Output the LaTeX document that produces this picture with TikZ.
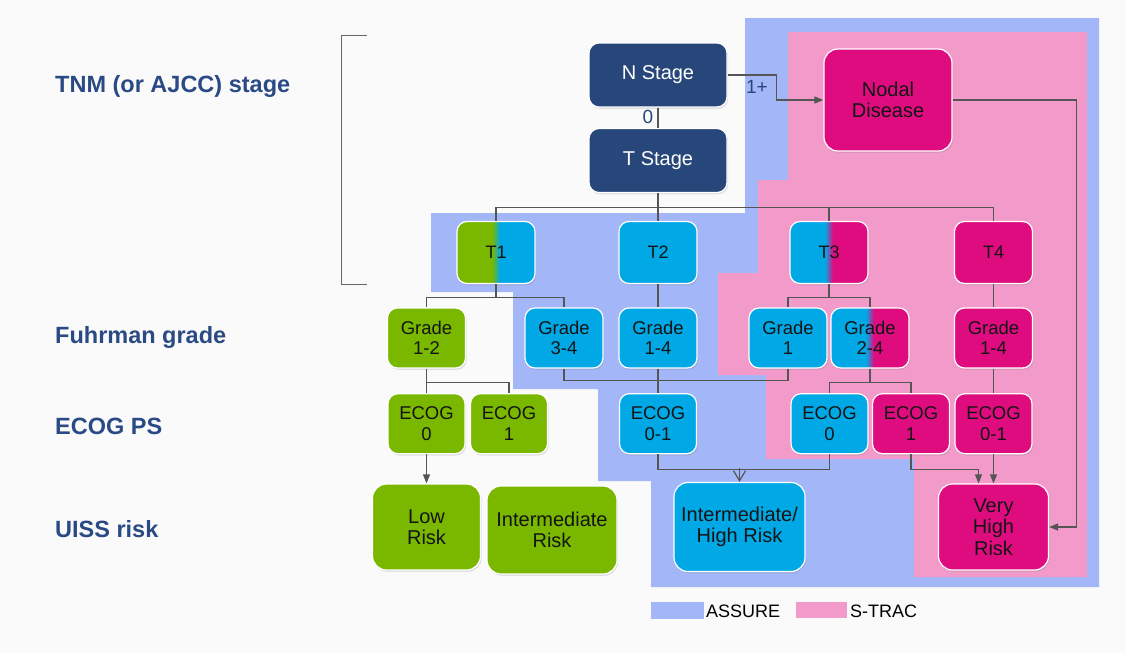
\documentclass[tikz,border=0pt]{standalone}
\usepackage{fontspec}
\setmainfont{Liberation Sans}
\usetikzlibrary{arrows.meta,shadows}
\definecolor{bgc}{HTML}{FAFAFA}
\definecolor{navy}{HTML}{27467A}
\definecolor{labc}{HTML}{2A4A85}
\definecolor{assure}{HTML}{A2B6F8}
\definecolor{strac}{HTML}{F29BCA}
\definecolor{cgreen}{HTML}{7AB800}
\definecolor{ccyan}{HTML}{00A9E6}
\definecolor{cmag}{HTML}{DF0C80}
\definecolor{lineg}{HTML}{555555}
\pgfdeclarehorizontalshading{gc}{100bp}{color(0bp)=(cgreen); color(47.5bp)=(cgreen); color(52.5bp)=(ccyan); color(100bp)=(ccyan)}
\pgfdeclarehorizontalshading{cm}{100bp}{color(0bp)=(ccyan); color(47.5bp)=(ccyan); color(52.5bp)=(cmag); color(100bp)=(cmag)}
\begin{document}
\begin{tikzpicture}[x=1pt,y=-1pt,
  box/.style={rounded corners=10pt, draw=white, line width=1.2pt, align=center, inner sep=0pt, text=black!92,
    drop shadow={shadow xshift=1.2pt, shadow yshift=-1.8pt, opacity=0.22}},
  stagebox/.style={box, fill=navy, text=white, minimum width=138pt, minimum height=64pt, font=\fontsize{20}{22}\selectfont},
  tbox/.style={box, minimum width=78pt, minimum height=62pt, font=\fontsize{18}{20}\selectfont},
  gbox/.style={box, minimum width=78pt, minimum height=60pt, font=\fontsize{18.5}{20.5}\selectfont},
  rbox/.style={box, rounded corners=14pt, font=\fontsize{20}{21.5}\selectfont},
  ln/.style={draw=lineg, line width=1.2pt},
  arr/.style={ln, -{Triangle[length=9pt,width=7pt]}},
  openarr/.style={ln, -{Straight Barb[length=10pt,width=12pt]}},
  lab/.style={anchor=base west, inner sep=0pt, text=labc, font=\bfseries\fontsize{23.5}{26}\selectfont},
  elab/.style={text=navy, font=\fontsize{19}{21}\selectfont},
  leg/.style={anchor=west, inner sep=1pt, text=black, font=\fontsize{18}{20}\selectfont}
]
\fill[bgc] (0,0) rectangle (1126,653);
\useasboundingbox (0,0) rectangle (1126,653);

% study regions
\fill[assure] (745,18) -- (1099,18) -- (1099,587) -- (651,587) -- (651,481) -- (598,481) -- (598,389) -- (513,389) -- (513,292) -- (431,292) -- (431,213) -- (745,213) -- cycle;
\fill[strac] (788,32) -- (1087,32) -- (1087,577) -- (914,577) -- (914,459) -- (766,459) -- (766,375) -- (718,375) -- (718,273) -- (758,273) -- (758,180) -- (788,180) -- cycle;

% left labels
\node[lab] (l1) at (55,92.5) {TNM (or AJCC) stage};
\node[lab] (l2) at (55,343) {Fuhrman grade};
\node[lab] (l3) at (55,434) {ECOG PS};
\node[lab] (l4) at (55,537) {UISS risk};
\draw[draw=black!60, line width=1pt] (367,35) -- (341,35) -- (341,284) -- (367,284);

% stage nodes
\node[stagebox] (nst) at (658,75) {N Stage};
\node[stagebox] (tst) at (658,160.5) {T Stage};
\node[rbox, fill=cmag, minimum width=128pt, minimum height=102pt] (nod) at (888,100) {Nodal\\Disease};

% T row
\node[tbox, shade, shading=gc] (t1) at (496,252.5) {T1};
\node[tbox, fill=ccyan] (t2) at (658,252.5) {T2};
\node[tbox, shade, shading=cm] (t3) at (829,252.5) {T3};
\node[tbox, fill=cmag] (t4) at (993.5,252.5) {T4};

% grade row
\node[gbox, fill=cgreen] (g12) at (426.5,338) {Grade\\1-2};
\node[gbox, fill=ccyan] (g34) at (564,338) {Grade\\3-4};
\node[gbox, fill=ccyan] (g14a) at (658,338) {Grade\\1-4};
\node[gbox, fill=ccyan] (g1) at (788,338) {Grade\\1};
\node[gbox, shade, shading=cm] (g24) at (870,338) {Grade\\2-4};
\node[gbox, fill=cmag] (g14b) at (993.5,338) {Grade\\1-4};

% ECOG row
\node[gbox, minimum width=77pt, fill=cgreen] (e0g) at (426.5,423.7) {ECOG\\0};
\node[gbox, minimum width=77pt, fill=cgreen] (e1g) at (509,423.7) {ECOG\\1};
\node[gbox, minimum width=77pt, fill=ccyan] (e01b) at (658,423.7) {ECOG\\0-1};
\node[gbox, minimum width=77pt, fill=ccyan] (e0b) at (829.5,423.7) {ECOG\\0};
\node[gbox, minimum width=77pt, fill=cmag] (e1p) at (911,423.7) {ECOG\\1};
\node[gbox, minimum width=77pt, fill=cmag] (e01p) at (993.5,423.7) {ECOG\\0-1};

% risk row
\node[rbox, fill=cgreen, minimum width=108pt, minimum height=86pt] (low) at (426.5,527) {Low\\Risk};
\node[rbox, fill=cgreen, minimum width=130pt, minimum height=88pt] (ir) at (552,530) {Intermediate\\Risk};
\node[rbox, fill=ccyan, minimum width=131pt, minimum height=89pt] (ihr) at (739.5,527) {Intermediate/\\High Risk};
\node[rbox, fill=cmag, minimum width=110pt, minimum height=86pt] (vhr) at (993.5,527) {Very\\High\\Risk};

% connectors: stage
\draw[ln] (nst) -- (tst);
\node[elab] (z0) at (648,117) {0};
\draw[arr] (nst.east) -- ++(49,0) |- (nod.west);
\node[elab] (z1) at (757,87) {1+};
\draw[arr] (nod.east) -- ++(124,0) |- (vhr.east);

% T stage to T row
\draw[ln] (tst.south) -- ++(0,14.5) -| (t1.north);
\draw[ln] (tst.south) -- ++(0,14.5) -| (t3.north);
\draw[ln] (tst.south) -- ++(0,14.5) -| (t4.north);
\draw[ln] (tst) -- (t2);

% T row to grades
\draw[ln] (t1.south) -- ++(0,13) -| (g12.north);
\draw[ln] (t1.south) -- ++(0,13) -| (g34.north);
\draw[ln] (t2) -- (g14a);
\draw[ln] (t3.south) -- ++(0,13) -| (g1.north);
\draw[ln] (t3.south) -- ++(0,13) -| (g24.north);
\draw[ln] (t4) -- (g14b);

% grades to ECOG
\draw[ln] (g12) -- (e0g);
\draw[ln] (g12.south) -- ++(0,13.5) -| (e1g.north);
\draw[ln] (g34.south) -- ++(0,12) -| (g1.south);
\draw[ln] (g14a) -- (e01b);
\draw[ln] (g24.south) -- ++(0,13.5) -| (e0b.north);
\draw[ln] (g24.south) -- ++(0,13.5) -| (e1p.north);
\draw[ln] (g14b) -- (e01p);

% ECOG to risk
\draw[arr] (e0g) -- (low);
\draw[ln] (e01b.south) -- ++(0,15) -| (e0b.south);
\path (ihr.north) ++(0,-14) coordinate (j1);
\draw[openarr] (j1) -- (ihr.north);
\draw[arr] (e1p.south) -- ++(0,15) -| ([xshift=-15pt]vhr.north);
\draw[arr] (e01p) -- (vhr);

% legend
\fill[assure] (651,602) rectangle (704,619);
\node[leg] (la) at (705,611) {ASSURE};
\fill[strac] (796,602) rectangle (847,618);
\node[leg] (ls) at (849,611) {S-TRAC};
\end{tikzpicture}
\end{document}
